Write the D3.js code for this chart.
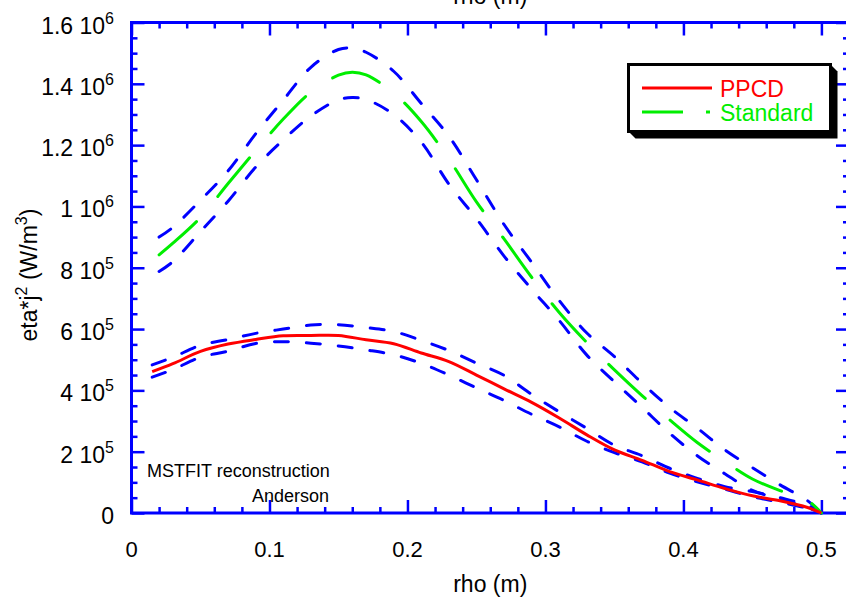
<!DOCTYPE html>
<html>
<head>
<meta charset="utf-8">
<script src="https://cdn.jsdelivr.net/npm/d3@7"></script>
<style>
  html, body { margin: 0; padding: 0; background: #ffffff; }
  svg { display: block; font-family: "Liberation Sans", Arial, Helvetica, sans-serif; }
</style>
</head>
<body>
<svg id="chart" width="846" height="603"></svg>
<script>
// Ohmic heating profiles eta*j^2 versus minor radius rho, with uncertainty bounds.
const rhoPPCD = [0.015,0.03,0.05,0.07,0.09,0.11,0.13,0.15,0.17,0.19,0.21,0.23,0.25,0.27,0.29,0.31,0.33,0.35,0.37,0.39,0.41,0.43,0.45,0.47,0.49,0.50];
const ppcd      = [461e3,487e3,527e3,551e3,566e3,578e3,579e3,579e3,565e3,552e3,522e3,494e3,450e3,405e3,361e3,310e3,255e3,206e3,172e3,135e3,108e3,80e3,56e3,40e3,18e3,0];
const ppcdUpper = [483e3,508e3,547e3,566e3,586e3,600e3,613e3,614e3,605e3,592e3,563e3,530e3,489e3,449e3,387e3,330e3,276e3,221e3,187e3,146e3,113e3,86e3,70e3,50e3,25e3,0];
const ppcdLower = [443e3,468e3,508e3,528e3,553e3,559e3,554e3,545e3,532e3,516e3,488e3,450e3,408e3,367e3,322e3,281e3,234e3,197e3,167e3,130e3,102e3,78e3,53e3,35e3,15e3,0];

const rhoStd = [0.02,0.03,0.05,0.07,0.09,0.11,0.13,0.15,0.16,0.17,0.19,0.21,0.23,0.25,0.27,0.29,0.31,0.33,0.35,0.37,0.39,0.41,0.43,0.45,0.47,0.49,0.50];
const standard      = [842e3,880e3,964e3,1075e3,1182e3,1285e3,1373e3,1428e3,1438e3,1429e3,1370e3,1277e3,1155e3,1015e3,894e3,769e3,654e3,556e3,467e3,383e3,304e3,230e3,168e3,111e3,73e3,41e3,0];
const standardUpper = [900e3,932e3,1020e3,1116e3,1237e3,1347e3,1454e3,1512e3,1516e3,1503e3,1441e3,1336e3,1229e3,1087e3,941e3,818e3,693e3,587e3,510e3,424e3,344e3,277e3,206e3,148e3,92e3,40e3,0];
const standardLower = [788e3,820e3,918e3,1017e3,1128e3,1217e3,1295e3,1348e3,1355e3,1349e3,1300e3,1210e3,1073e3,960e3,838e3,730e3,628e3,515e3,428e3,345e3,260e3,187e3,128e3,74e3,45e3,17e3,0];

// Axis ticks and labels
const xMajorTicks = [0, 0.1, 0.2, 0.3, 0.4, 0.5];
const xTickLabels = ["0", "0.1", "0.2", "0.3", "0.4", "0.5"];
const yMajorTicks = [0, 2e5, 4e5, 6e5, 8e5, 1e6, 1.2e6, 1.4e6, 1.6e6];
const yTickMantissa = ["0", "2", "4", "6", "8", "1", "1.2", "1.4", "1.6"];
const yTickExponent = [null, "5", "5", "5", "5", "6", "6", "6", "6"];

const seriesNames = ["PPCD", "Standard"];
const annotations = ["MSTFIT reconstruction", "Anderson"];

const svg = d3.select("#chart");
const BLUE = "#0000ff", RED = "#ff0000", GREEN = "#00ee00";

const plotLeft = 131.5, plotRight = 849, plotTop = 22.5, plotBottom = 513;
const x = d3.scaleLinear().domain([0, 0.52]).range([plotLeft, plotRight]);
const y = d3.scaleLinear().domain([0, 1.6e6]).range([plotBottom, plotTop]);

const xMinor = d3.range(0.02, 0.52, 0.02).filter(v => Math.abs(v * 10 - Math.round(v * 10)) > 1e-6);
const yMinor = d3.range(5e4, 1.6e6, 5e4).filter(v => v % 2e5 !== 0);

function drawAxis(axisFn, pos, ticks, size, transform) {
  const g = svg.append("g")
    .attr("transform", transform)
    .call(axisFn(pos).tickValues(ticks).tickSize(-size).tickSizeOuter(0).tickFormat(""));
  g.select(".domain").remove();
  g.selectAll(".tick line").attr("stroke", BLUE).attr("stroke-width", 2.5);
}

// inward ticks on all four sides
drawAxis(d3.axisBottom, x, xMajorTicks, 13, `translate(0,${plotBottom})`);
drawAxis(d3.axisBottom, x, xMinor, 6, `translate(0,${plotBottom})`);
drawAxis(d3.axisTop, x, xMajorTicks, 13, `translate(0,${plotTop})`);
drawAxis(d3.axisTop, x, xMinor, 6, `translate(0,${plotTop})`);
drawAxis(d3.axisLeft, y, yMajorTicks, 13, `translate(${plotLeft},0)`);
drawAxis(d3.axisLeft, y, yMinor, 6, `translate(${plotLeft},0)`);
drawAxis(d3.axisRight, y, yMajorTicks, 13, `translate(${plotRight},0)`);
drawAxis(d3.axisRight, y, yMinor, 6, `translate(${plotRight},0)`);

svg.append("rect")
  .attr("x", plotLeft).attr("y", plotTop)
  .attr("width", plotRight - plotLeft).attr("height", plotBottom - plotTop)
  .attr("fill", "none").attr("stroke", BLUE).attr("stroke-width", 3);

// x tick labels
svg.append("g").selectAll("text").data(xMajorTicks).join("text")
  .attr("x", d => x(d)).attr("y", 557)
  .attr("text-anchor", "middle").attr("font-size", 22).attr("fill", "#000")
  .text((d, i) => xTickLabels[i]);

// y tick labels: mantissa 10^exponent
const yl = svg.append("g").selectAll("text").data(yMajorTicks).join("text")
  .attr("x", 114).attr("y", d => y(d) + 11)
  .attr("text-anchor", "end").attr("font-size", 23).attr("fill", "#000");
yl.each(function(d, i) {
  const t = d3.select(this);
  if (yTickExponent[i] === null) { t.text(yTickMantissa[i]); return; }
  t.append("tspan").text(yTickMantissa[i] + " 10");
  t.append("tspan").attr("font-size", 16).attr("dy", -10).text(yTickExponent[i]);
});

// axis titles (bottom and top)
svg.append("text").attr("x", (plotLeft + plotRight) / 2).attr("y", 592)
  .attr("text-anchor", "middle").attr("font-size", 23).text("rho (m)");
svg.append("text").attr("x", (plotLeft + plotRight) / 2).attr("y", 4)
  .attr("text-anchor", "middle").attr("font-size", 23).text("rho (m)");

const yTitle = svg.append("text")
  .attr("transform", "translate(37,275) rotate(-90)")
  .attr("text-anchor", "middle").attr("font-size", 23);
yTitle.append("tspan").text("eta*j");
yTitle.append("tspan").attr("font-size", 16).attr("dy", -10).text("2");
yTitle.append("tspan").attr("dy", 10).text(" (W/m");
yTitle.append("tspan").attr("font-size", 16).attr("dy", -10).text("3");
yTitle.append("tspan").attr("dy", 10).text(")");

// annotation
svg.append("text").attr("x", 147).attr("y", 476.5).attr("font-size", 18).text(annotations[0]);
svg.append("text").attr("x", 252).attr("y", 501.5).attr("font-size", 18).text(annotations[1]);

// profile curves
const line = (rs) => d3.line()
  .x((d, i) => x(rs[i]))
  .y(d => y(d))
  .curve(d3.curveCatmullRom.alpha(0.5));

function drawCurve(rs, vals, color, dash) {
  svg.append("path")
    .attr("d", line(rs)(vals))
    .attr("fill", "none")
    .attr("stroke", color)
    .attr("stroke-width", 3)
    .attr("stroke-linecap", dash ? "round" : "butt")
    .attr("stroke-linejoin", "round")
    .attr("stroke-dasharray", dash || null);
}

drawCurve(rhoStd, standardUpper, BLUE, "14,18");
drawCurve(rhoStd, standardLower, BLUE, "14,18");
drawCurve(rhoPPCD, ppcdUpper, BLUE, "14,18");
drawCurve(rhoPPCD, ppcdLower, BLUE, "14,18");
drawCurve(rhoStd, standard, GREEN, "50,33");
drawCurve(rhoPPCD, ppcd, RED, null);

// legend box with drop shadow
const lx0 = 628.5, ly0 = 64.5, lx1 = 830.5, ly1 = 131.5, sh = 7;
svg.append("polygon")
  .attr("points", [[lx1, ly0], [lx1 + sh, ly0 + sh], [lx1 + sh, ly1 + sh], [lx0 + sh, ly1 + sh], [lx0, ly1]].map(p => p.join(",")).join(" "))
  .attr("fill", "#000");
svg.append("rect")
  .attr("x", lx0).attr("y", ly0).attr("width", lx1 - lx0).attr("height", ly1 - ly0)
  .attr("fill", "#fff").attr("stroke", "#000").attr("stroke-width", 3);

svg.append("line").attr("x1", 642).attr("x2", 712).attr("y1", 88).attr("y2", 88)
  .attr("stroke", RED).attr("stroke-width", 3);
svg.append("text").attr("x", 720).attr("y", 96.5).attr("font-size", 23).attr("fill", RED).text(seriesNames[0]);

svg.append("line").attr("x1", 642).attr("x2", 712).attr("y1", 112).attr("y2", 112)
  .attr("stroke", GREEN).attr("stroke-width", 3).attr("stroke-dasharray", "41,23,4,100");
svg.append("text").attr("x", 720).attr("y", 120.5).attr("font-size", 23).attr("fill", GREEN).text(seriesNames[1]);
</script>
</body>
</html>
